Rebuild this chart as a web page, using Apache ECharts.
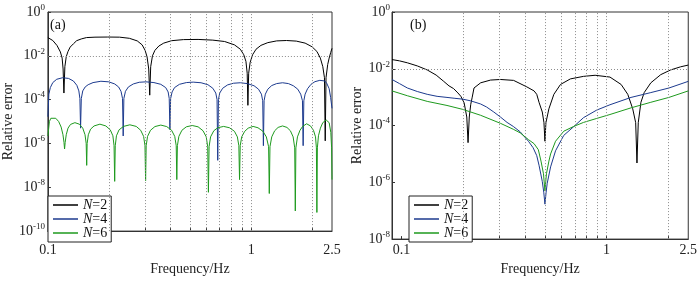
<!DOCTYPE html>
<html>
<head>
<meta charset="utf-8">
<title>Relative error</title>
<script src="https://cdn.jsdelivr.net/npm/echarts@6/dist/echarts.min.js"></script>
<style>
  html, body { margin: 0; padding: 0; background: #fff; }
  #chart { width: 700px; height: 281px; }
</style>
</head>
<body>
<div id="chart"></div>
<script>
// legend names
var names = ['N=2', 'N=4', 'N=6'];

// panel (a): [frequency Hz, relative error]
var a_N2 = [[0.1,6.8e-2],[0.1057,5.0e-2],[0.1109,2.95e-2],[0.1152,1.5e-2],[0.1175,7.9e-3],[0.1188,2.5e-3],[0.1199,2.0e-4],[0.1212,3.2e-3],[0.1231,9.1e-3],[0.1256,1.58e-2],[0.1287,2.5e-2],[0.1336,3.55e-2],[0.1385,4.9e-2],[0.146,5.9e-2],[0.1548,6.8e-2],[0.1705,7.1e-2],[0.1971,7.2e-2],[0.2253,7.1e-2],[0.2518,6.3e-2],[0.2752,4.8e-2],[0.2909,3.16e-2],[0.3008,1.78e-2],[0.3076,8.9e-3],[0.3134,2.5e-3],[0.317,1.6e-4],[0.3205,3.2e-3],[0.327,1.0e-2],[0.3362,1.78e-2],[0.3515,2.8e-2],[0.3715,3.8e-2],[0.4063,4.9e-2],[0.4642,5.5e-2],[0.5482,5.6e-2],[0.6478,5.2e-2],[0.7407,4.5e-2],[0.8279,3.16e-2],[0.8849,2.0e-2],[0.92,1.12e-2],[0.9428,5.6e-3],[0.9565,1.6e-3],[0.964,5.5e-5],[0.9725,1.6e-3],[0.989,5.0e-3],[1.0167,1.12e-2],[1.0573,2.0e-2],[1.1176,3.0e-2],[1.2082,4.0e-2],[1.3356,4.8e-2],[1.4926,5.0e-2],[1.668,4.7e-2],[1.8437,3.8e-2],[1.9929,2.6e-2],[2.107,1.58e-2],[2.1906,7.9e-3],[2.2525,3.2e-3],[2.2954,1.0e-3],[2.3155,1.32e-6],[2.3364,1.0e-3],[2.3809,4.0e-3],[2.421,7.9e-3],[2.4631,1.41e-2],[2.5,2.2e-2]];

var a_N4 = [[0.1,1.66e-5],[0.1011,1.78e-4],[0.1028,3.55e-4],[0.1057,6.0e-4],[0.1105,8.5e-4],[0.1182,1.0e-3],[0.1263,9.3e-4],[0.1335,7.1e-4],[0.1388,4.5e-4],[0.142,2.5e-4],[0.1437,1.12e-4],[0.1448,5.0e-6],[0.146,1.12e-4],[0.1484,2.5e-4],[0.1526,3.8e-4],[0.1578,4.8e-4],[0.1668,6.0e-4],[0.1823,6.9e-4],[0.1993,6.5e-4],[0.2131,5.2e-4],[0.2227,3.8e-4],[0.229,2.4e-4],[0.2329,1.12e-4],[0.2347,2.2e-6],[0.2365,1.12e-4],[0.2408,2.4e-4],[0.249,3.8e-4],[0.2632,5.2e-4],[0.2814,6.2e-4],[0.3041,6.5e-4],[0.3325,6.0e-4],[0.3594,5.0e-4],[0.3799,3.55e-4],[0.3906,2.24e-4],[0.3954,1.12e-4],[0.3985,4.3e-6],[0.4017,1.12e-4],[0.4084,2.24e-4],[0.4199,3.55e-4],[0.4439,5.0e-4],[0.4799,6.0e-4],[0.5187,6.3e-4],[0.567,5.9e-4],[0.6129,4.8e-4],[0.648,3.3e-4],[0.67,2.0e-4],[0.6798,1.0e-4],[0.6851,1.7e-7],[0.6905,1.0e-4],[0.7005,2.0e-4],[0.7243,3.3e-4],[0.7657,4.7e-4],[0.8185,5.6e-4],[0.8848,5.9e-4],[0.9564,5.4e-4],[1.0339,4.3e-4],[1.087,3.0e-4],[1.1239,1.78e-4],[1.1402,8.9e-5],[1.1491,7.9e-7],[1.1581,8.9e-5],[1.1749,1.78e-4],[1.2081,3.0e-4],[1.263,4.4e-4],[1.3353,5.4e-4],[1.4274,5.9e-4],[1.5259,5.4e-4],[1.6132,4.3e-4],[1.696,3.0e-4],[1.7536,1.78e-4],[1.789,8.9e-5],[1.803,7.9e-7],[1.8171,8.9e-5],[1.8435,1.78e-4],[1.8955,3.16e-4],[1.9708,5.0e-4],[2.0605,6.6e-4],[2.1783,7.6e-4],[2.3028,7.1e-4],[2.3545,5.6e-4],[2.4209,3.16e-4],[2.4617,1.26e-4],[2.5,4.0e-5]];

var a_N6 = [[0.1,2.2e-6],[0.1017,1.0e-5],[0.1034,1.41e-5],[0.1057,1.58e-5],[0.1093,1.41e-5],[0.113,1.0e-5],[0.1162,5.6e-6],[0.1186,2.5e-6],[0.12,1.12e-6],[0.1208,5.6e-7],[0.1216,1.12e-6],[0.1231,2.5e-6],[0.1256,5.0e-6],[0.1292,7.4e-6],[0.1358,8.9e-6],[0.1428,7.6e-6],[0.1484,5.0e-6],[0.1523,2.5e-6],[0.1543,1.0e-6],[0.1552,1.0e-7],[0.156,1.0e-6],[0.1581,2.5e-6],[0.1622,4.5e-6],[0.1687,6.3e-6],[0.1803,7.6e-6],[0.1928,6.3e-6],[0.2027,4.2e-6],[0.2088,2.24e-6],[0.2116,7.9e-7],[0.2131,1.86e-8],[0.2145,7.9e-7],[0.2174,2.24e-6],[0.224,4.2e-6],[0.2355,6.0e-6],[0.2531,7.1e-6],[0.2721,6.0e-6],[0.2861,4.0e-6],[0.2958,2.1e-6],[0.3004,7.9e-7],[0.3025,2.0e-8],[0.3045,7.9e-7],[0.3093,2.1e-6],[0.3198,4.0e-6],[0.3362,5.9e-6],[0.3594,6.9e-6],[0.3842,5.9e-6],[0.4061,4.0e-6],[0.4209,2.1e-6],[0.4279,7.9e-7],[0.4308,2.24e-8],[0.4337,7.9e-7],[0.441,2.1e-6],[0.4565,4.0e-6],[0.4799,5.75e-6],[0.513,6.6e-6],[0.5484,5.75e-6],[0.5798,3.8e-6],[0.6014,2.0e-6],[0.6115,7.1e-7],[0.6163,5.9e-9],[0.6211,7.1e-7],[0.6316,2.0e-6],[0.6552,3.8e-6],[0.6851,5.2e-6],[0.7323,6.0e-6],[0.7829,5.2e-6],[0.8277,3.6e-6],[0.8557,2.0e-6],[0.8701,7.9e-7],[0.8769,2.24e-8],[0.8838,7.9e-7],[0.8987,2.0e-6],[0.9302,3.6e-6],[0.9671,5.0e-6],[1.0224,6.0e-6],[1.0809,5.2e-6],[1.1427,3.6e-6],[1.1881,2.0e-6],[1.2189,7.1e-7],[1.2284,5.2e-9],[1.238,7.1e-7],[1.263,2.0e-6],[1.3058,3.8e-6],[1.3577,5.4e-6],[1.4274,6.3e-6],[1.5006,5.4e-6],[1.5602,3.8e-6],[1.6096,2.0e-6],[1.6385,6.3e-7],[1.6495,8.3e-10],[1.6605,6.3e-7],[1.6903,2.0e-6],[1.7399,4.0e-6],[1.793,6.0e-6],[1.8744,7.9e-6],[1.9597,6.3e-6],[2.0262,4.0e-6],[2.074,2.0e-6],[2.0949,6.3e-7],[2.1066,7.1e-10],[2.1184,6.3e-7],[2.1444,2.24e-6],[2.1926,5.0e-6],[2.2519,8.9e-6],[2.3413,1.17e-5],[2.4209,8.9e-6],[2.467,3.16e-6],[2.4891,6.3e-7],[2.5,2.24e-8]];

// panel (b)
var b_N2 = [[0.09,2.11e-2],[0.09793,1.9e-2],[0.107,1.62e-2],[0.1196,1.26e-2],[0.1336,9.1e-3],[0.1477,6.0e-3],[0.1608,3.6e-3],[0.1706,2.5e-3],[0.1797,2.0e-3],[0.1885,1.41e-3],[0.1949,1.07e-3],[0.2022,6.3e-4],[0.2083,2.0e-4],[0.2113,2.5e-5],[0.2142,2.0e-4],[0.2178,5.6e-4],[0.2214,1.0e-3],[0.2259,2.1e-3],[0.2433,3.2e-3],[0.2719,4.0e-3],[0.3038,4.2e-3],[0.3522,3.9e-3],[0.4087,2.3e-3],[0.4432,1.66e-3],[0.4567,1.26e-3],[0.4685,6.6e-4],[0.486,3.0e-4],[0.4952,1.26e-4],[0.5007,2.8e-5],[0.5063,1.26e-4],[0.5235,3.9e-4],[0.5534,1.26e-3],[0.5961,2.8e-3],[0.6661,4.4e-3],[0.7721,5.4e-3],[0.8792,5.9e-3],[1.0385,5.1e-3],[1.1773,2.8e-3],[1.2682,1.26e-3],[1.3406,3.9e-4],[1.386,1.26e-4],[1.4061,4.8e-6],[1.4266,1.26e-4],[1.47,6.6e-4],[1.5249,1.45e-3],[1.6426,3.2e-3],[1.8355,6.2e-3],[2.0511,9.1e-3],[2.2918,1.17e-2],[2.5,1.35e-2]];

var b_N4 = [[0.09,4.2e-3],[0.09793,3.0e-3],[0.107,2.1e-3],[0.1196,1.58e-3],[0.1336,1.26e-3],[0.1493,1.07e-3],[0.1668,9.8e-4],[0.1823,9.1e-4],[0.1993,8.5e-4],[0.2178,7.4e-4],[0.2433,5.75e-4],[0.2601,4.5e-4],[0.282,3.0e-4],[0.3038,2.0e-4],[0.3273,1.29e-4],[0.351,9.3e-5],[0.3794,6.0e-5],[0.416,2.8e-5],[0.4383,1.66e-5],[0.4567,8.7e-6],[0.4685,4.0e-6],[0.486,1.07e-6],[0.4941,4.5e-7],[0.5007,1.7e-7],[0.5074,4.5e-7],[0.5137,9.3e-7],[0.5335,3.5e-6],[0.5639,1.29e-5],[0.6183,4.5e-5],[0.6909,9.1e-5],[0.7721,1.9e-4],[0.8949,3.5e-4],[1.0385,5.4e-4],[1.3155,9.8e-4],[1.6426,1.45e-3],[2.0126,2.1e-3],[2.5,3.6e-3]];

var b_N6 = [[0.09,1.66e-3],[0.107,1.12e-3],[0.1336,7.1e-4],[0.1668,5.1e-4],[0.1993,3.7e-4],[0.2433,2.3e-4],[0.3038,1.2e-4],[0.351,7.4e-5],[0.3794,5.5e-5],[0.416,3.2e-5],[0.4432,2.3e-5],[0.4649,1.41e-5],[0.479,5.6e-6],[0.4925,2.0e-6],[0.5007,5.0e-7],[0.5092,2.0e-6],[0.5235,5.6e-6],[0.5335,1.0e-5],[0.5639,2.8e-5],[0.6183,6.3e-5],[0.6909,9.3e-5],[0.7721,1.29e-4],[0.8949,1.78e-4],[1.0385,2.45e-4],[1.3155,4.2e-4],[1.6426,6.6e-4],[2.0126,9.8e-4],[2.5,1.66e-3]];

// ticks and grid
var xLabelVals = [0.1, 1, 2.5];
var xGridVals = [0.2, 0.3, 0.4, 0.5, 0.6, 0.7, 0.8, 0.9, 1, 2];
var yLabelsA = [1e-10, 1e-8, 1e-6, 1e-4, 1e-2, 1];
var yLabelsB = [1e-8, 1e-6, 1e-4, 1e-2, 1];
var yGridA = [1e-8, 1e-6, 1e-4, 1e-2];
var yGridB = [1e-6, 1e-4, 1e-2];

var colors = ['#000000', '#1c3a8e', '#1e9a1e'];
var serif = '"Liberation Serif", "DejaVu Serif", serif';
var axisColor = '#333';

var myChart = echarts.init(document.getElementById('chart'), null, {renderer: 'canvas'});

function xAxisCfg(idx, minVal, gap, margin) {
  return {
    type: 'log', logBase: 10, gridIndex: idx, min: minVal, max: 2.5,
    name: 'Frequency/Hz', nameLocation: 'middle', nameGap: gap,
    nameTextStyle: {fontFamily: serif, fontSize: 14, color: '#222'},
    axisLine: {show: true, lineStyle: {color: axisColor, width: 1}},
    axisTick: {show: true, inside: true, length: 3, customValues: xGridVals.concat([0.1]), lineStyle: {color: axisColor}},
    axisLabel: {
      customValues: xLabelVals, margin: margin, fontFamily: serif, fontSize: 14, color: '#222',
      formatter: function(v) { return String(+Number(v).toPrecision(3)); }
    },
    splitLine: {show: false},
    minorTick: {show: false}
  };
}

function yAxisCfg(idx, minVal, labels, gap, margin) {
  return {
    type: 'log', logBase: 10, gridIndex: idx, min: minVal, max: 1,
    name: 'Relative error', nameLocation: 'middle', nameGap: gap, nameRotate: 90,
    nameTextStyle: {fontFamily: serif, fontSize: 14, color: '#222'},
    axisLine: {show: true, lineStyle: {color: axisColor, width: 1}},
    axisTick: {show: true, inside: true, length: 3, customValues: labels, lineStyle: {color: axisColor}},
    axisLabel: {
      customValues: labels, margin: margin,
      formatter: function(v) {
        var p = Math.round(Math.log(v) / Math.LN10);
        return '{b|10}{s|' + p + '}';
      },
      rich: {
        b: {fontFamily: serif, fontSize: 14, color: '#222'},
        s: {fontFamily: serif, fontSize: 9, color: '#222', padding: [0, 0, 9, 0]}
      }
    },
    splitLine: {show: false}
  };
}

function gridSeries(idx, yGrid) {
  var lines = xGridVals.map(function(v) { return {xAxis: v}; })
    .concat(yGrid.map(function(v) { return {yAxis: v}; }));
  return {
    type: 'line', xAxisIndex: idx, yAxisIndex: idx, data: [], silent: true,
    symbol: 'none', z: 1,
    markLine: {
      silent: true, symbol: ['none', 'none'], label: {show: false},
      lineStyle: {type: [1, 2], color: '#8c8c8c', width: 1},
      emphasis: {disabled: true},
      animation: false,
      data: lines
    }
  };
}

function curve(name, data, idx, color) {
  return {
    name: name, type: 'line', xAxisIndex: idx, yAxisIndex: idx,
    data: data, symbol: 'none', showSymbol: false, smooth: false,
    color: color, lineStyle: {color: color, width: 1}, z: 3
  };
}

function legendCfg(left) {
  return {
    data: names, left: left, top: 196, orient: 'vertical',
    icon: 'rect', itemWidth: 25, itemHeight: 1.5, itemGap: 0,
    padding: [2, 4, 2, 5], borderColor: '#222', borderWidth: 1, backgroundColor: '#fff',
    selectedMode: false,
    formatter: function(n) { return '{i|N}' + n.slice(1); },
    textStyle: {
      fontFamily: serif, fontSize: 14, lineHeight: 13, color: '#111',
      rich: {i: {fontFamily: serif, fontSize: 14, lineHeight: 13, fontStyle: 'italic', color: '#111'}}
    }
  };
}

var option = {
  animation: false,
  backgroundColor: '#fff',
  grid: [
    {left: 42, top: 12, width: 290, height: 226, show: true, borderColor: axisColor, borderWidth: 1},
    {left: 392, top: 12, width: 300, height: 234, show: true, borderColor: axisColor, borderWidth: 1}
  ],
  xAxis: [xAxisCfg(0, 0.1, 26, 12), xAxisCfg(1, 0.09, 19, 4)],
  yAxis: [yAxisCfg(0, 1e-10, yLabelsA, 28, 3), yAxisCfg(1, 1e-8, yLabelsB, 21, 2)],
  legend: [legendCfg(48), legendCfg(409)],
  graphic: [
    {type: 'text', left: 50, top: 18, style: {text: '(a)', font: '14px ' + serif, fill: '#111'}},
    {type: 'text', left: 410, top: 18, style: {text: '(b)', font: '14px ' + serif, fill: '#111'}}
  ],
  series: [
    gridSeries(0, yGridA),
    gridSeries(1, yGridB),
    curve(names[0], a_N2, 0, colors[0]),
    curve(names[1], a_N4, 0, colors[1]),
    curve(names[2], a_N6, 0, colors[2]),
    curve(names[0], b_N2, 1, colors[0]),
    curve(names[1], b_N4, 1, colors[1]),
    curve(names[2], b_N6, 1, colors[2])
  ]
};

myChart.setOption(option);
</script>
</body>
</html>
